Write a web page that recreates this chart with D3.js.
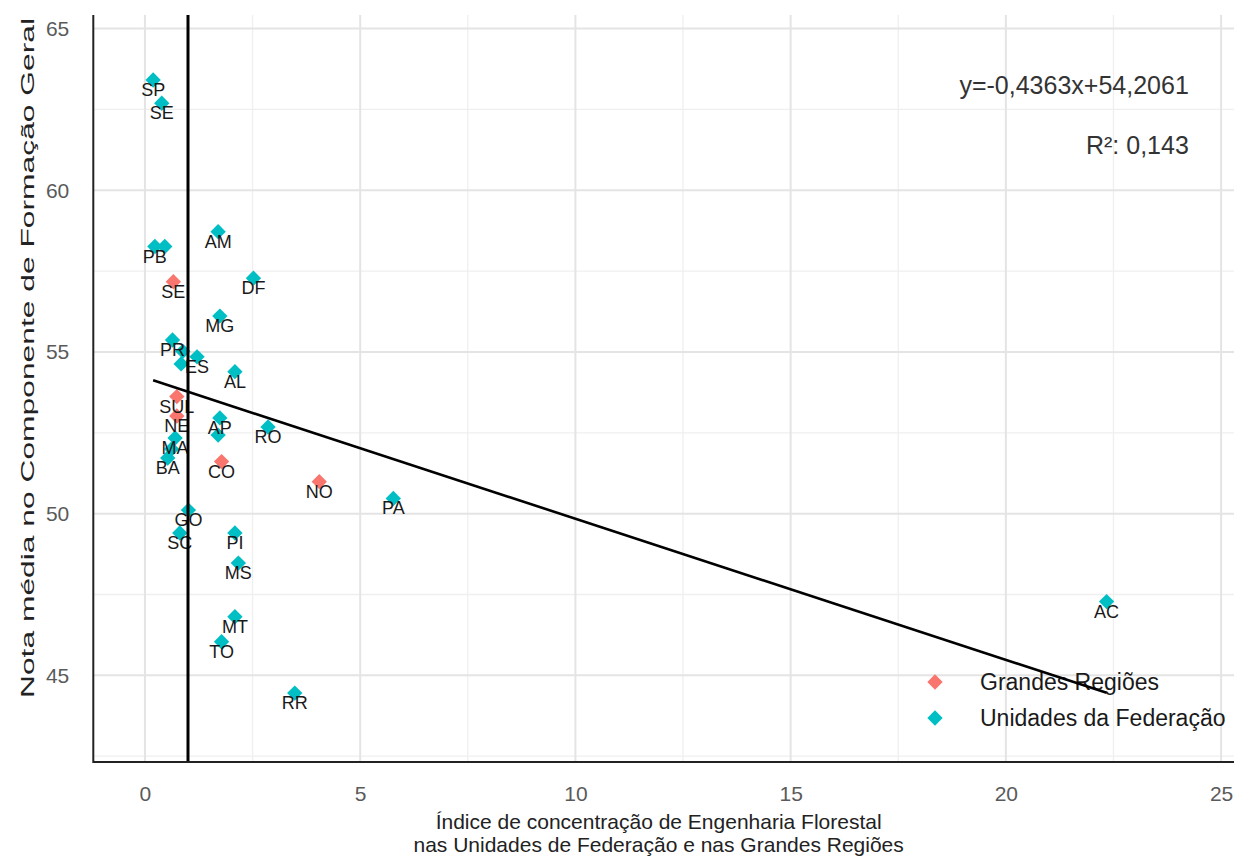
<!DOCTYPE html>
<html>
<head>
<meta charset="utf-8">
<script src="https://cdn.jsdelivr.net/npm/d3@7"></script>
<style>
  html, body { margin: 0; padding: 0; background: #ffffff; }
  svg { display: block; }
  text { font-family: "Liberation Sans", Arial, sans-serif; }
</style>
</head>
<body>
<svg id="chart" width="1234" height="866"></svg>
<script>
// ---- data ----
const regionNames = ["SE", "SUL", "NE", "CO", "NO"];
const regionX = [0.66, 0.74, 0.74, 1.78, 4.05];
const regionY = [57.17, 53.62, 53.02, 51.61, 50.99];

const ufNames = ["SP", "SE", "PB", "CE", "AM", "DF", "MG", "PR", "RJ", "ES", "RS", "AL", "AP", "PE", "RO", "MA", "RN", "BA", "PA", "GO", "SC", "PI", "MS", "MT", "TO", "RR", "AC"];
const ufX = [0.19, 0.39, 0.23, 0.46, 1.70, 2.52, 1.74, 0.64, 0.88, 1.21, 0.84, 2.09, 1.74, 1.70, 2.86, 0.70, 0.62, 0.53, 5.77, 1.01, 0.81, 2.09, 2.17, 2.09, 1.78, 3.48, 22.34];
const ufY = [63.41, 62.69, 58.26, 58.26, 58.72, 57.28, 56.11, 55.37, 55.02, 54.85, 54.63, 54.39, 52.96, 52.43, 52.68, 52.34, 52.00, 51.72, 50.47, 50.11, 49.40, 49.40, 48.47, 46.81, 46.04, 44.45, 47.28];
// labels dropped in the original because they overlapped (check_overlap)
const hiddenLabels = ["CE", "RJ", "RS", "PE", "RN"];

const seriesNames = ["Grandes Regiões", "Unidades da Federação"];
const seriesColors = ["#F8766D", "#00BFC4"];

const xTicks = [0, 5, 10, 15, 20, 25];
const xMinor = [2.5, 7.5, 12.5, 17.5, 22.5];
const yTicks = [45, 50, 55, 60, 65];
const yMinor = [42.5, 47.5, 52.5, 57.5, 62.5];

const slope = -0.4363, intercept = 54.2061;
const eqText = "y=-0,4363x+54,2061";
const r2Text = "R²: 0,143";
const vlineX = 1;

const xTitle = ["Índice de concentração de Engenharia Florestal", "nas Unidades de Federação e nas Grandes Regiões"];
const yTitle = "Nota média no Componente de Formação Geral";

// ---- layout ----
const panel = { left: 93.3, right: 1234, top: 15, bottom: 762 };

const x = d3.scaleLinear().domain([-1.2, 25.3]).range([panel.left, panel.right]);
const y = d3.scaleLinear().domain([42.32, 65.42]).range([panel.bottom, panel.top]);

const svg = d3.select("#chart");

// grid
const grid = svg.append("g");
grid.selectAll("line.xminor").data(xMinor).join("line")
  .attr("x1", d => x(d)).attr("x2", d => x(d))
  .attr("y1", panel.top).attr("y2", panel.bottom)
  .attr("stroke", "#efefef").attr("stroke-width", 1.3);
grid.selectAll("line.yminor").data(yMinor).join("line")
  .attr("y1", d => y(d)).attr("y2", d => y(d))
  .attr("x1", panel.left).attr("x2", panel.right)
  .attr("stroke", "#efefef").attr("stroke-width", 1.3);
grid.selectAll("line.xmajor").data(xTicks).join("line")
  .attr("x1", d => x(d)).attr("x2", d => x(d))
  .attr("y1", panel.top).attr("y2", panel.bottom)
  .attr("stroke", "#e4e4e4").attr("stroke-width", 2);
grid.selectAll("line.ymajor").data(yTicks).join("line")
  .attr("y1", d => y(d)).attr("y2", d => y(d))
  .attr("x1", panel.left).attr("x2", panel.right)
  .attr("stroke", "#e4e4e4").attr("stroke-width", 2);

// points
const regions = regionNames.map((n, i) => ({ name: n, x: regionX[i], y: regionY[i], s: 0 }));
const ufs = ufNames.map((n, i) => ({ name: n, x: ufX[i], y: ufY[i], s: 1 }));
const all = regions.concat(ufs);

const diamond = d3.symbol().type(d3.symbolSquare).size(118);
svg.append("g").selectAll("path").data(all).join("path")
  .attr("d", diamond)
  .attr("transform", d => `translate(${x(d.x)},${y(d.y)}) rotate(45)`)
  .attr("fill", d => seriesColors[d.s]);

// labels
svg.append("g").selectAll("text").data(all.filter(d => !(d.s === 1 && hiddenLabels.includes(d.name)))).join("text")
  .attr("x", d => x(d.x))
  .attr("y", d => y(d.y))
  .attr("dy", 16)
  .attr("text-anchor", "middle")
  .attr("font-size", 18)
  .attr("fill", "#1a1a1a")
  .text(d => d.name);

// legend
const legend = svg.append("g").attr("transform", "translate(935,682)");
seriesNames.forEach((n, i) => {
  const g = legend.append("g").attr("transform", `translate(0,${i * 36})`);
  g.append("path").attr("d", diamond).attr("transform", "rotate(45)").attr("fill", seriesColors[i]);
  g.append("text").attr("x", 45).attr("y", 0).attr("dy", "0.36em")
    .attr("font-size", 23).attr("fill", "#1a1a1a").text(n);
});

// vertical reference line
svg.append("line")
  .attr("x1", x(vlineX)).attr("x2", x(vlineX))
  .attr("y1", panel.top).attr("y2", panel.bottom)
  .attr("stroke", "#000").attr("stroke-width", 3);

// regression line
const xMin = d3.min(all, d => d.x), xMax = d3.max(all, d => d.x);
svg.append("line")
  .attr("x1", x(xMin)).attr("y1", y(slope * xMin + intercept))
  .attr("x2", x(xMax)).attr("y2", y(slope * xMax + intercept))
  .attr("stroke", "#000").attr("stroke-width", 2.6);

// axes lines
svg.append("line").attr("x1", panel.left).attr("x2", panel.left)
  .attr("y1", panel.top).attr("y2", panel.bottom + 1)
  .attr("stroke", "#222").attr("stroke-width", 2);
svg.append("line").attr("x1", panel.left).attr("x2", panel.right)
  .attr("y1", panel.bottom).attr("y2", panel.bottom)
  .attr("stroke", "#222").attr("stroke-width", 2);

// tick labels via axes
const xAxis = d3.axisBottom(x).tickValues(xTicks).tickSize(0).tickPadding(24).tickFormat(d3.format("d"));
const gx = svg.append("g").attr("transform", `translate(0,${panel.bottom})`).call(xAxis);
gx.select(".domain").remove();
gx.selectAll("text").attr("font-size", 21).attr("fill", "#5a5a5a").attr("font-family", "Liberation Sans, Arial, sans-serif");

const yAxis = d3.axisLeft(y).tickValues(yTicks).tickSize(0).tickPadding(24).tickFormat(d3.format("d"));
const gy = svg.append("g").attr("transform", `translate(${panel.left},0)`).call(yAxis);
gy.select(".domain").remove();
gy.selectAll("text").attr("font-size", 21).attr("fill", "#5a5a5a").attr("font-family", "Liberation Sans, Arial, sans-serif");

// annotations
svg.append("text").attr("x", x(24.25)).attr("y", y(63.26)).attr("dy", "0.36em")
  .attr("text-anchor", "end").attr("font-size", 25).attr("fill", "#333").text(eqText);
svg.append("text").attr("x", x(24.25)).attr("y", y(61.40)).attr("dy", "0.36em")
  .attr("text-anchor", "end").attr("font-size", 25).attr("fill", "#333").text(r2Text);

// axis titles
xTitle.forEach((t, i) => {
  svg.append("text").attr("x", (panel.left + panel.right) / 2 - 5).attr("y", 829 + i * 23)
    .attr("text-anchor", "middle").attr("font-size", 21).attr("fill", "#222").text(t);
});
svg.append("text")
  .attr("transform", `translate(34,358) rotate(-90)`)
  .attr("text-anchor", "middle").attr("font-size", 19).attr("fill", "#222")
  .attr("textLength", 680).attr("lengthAdjust", "spacingAndGlyphs")
  .text(yTitle);
</script>
</body>
</html>
